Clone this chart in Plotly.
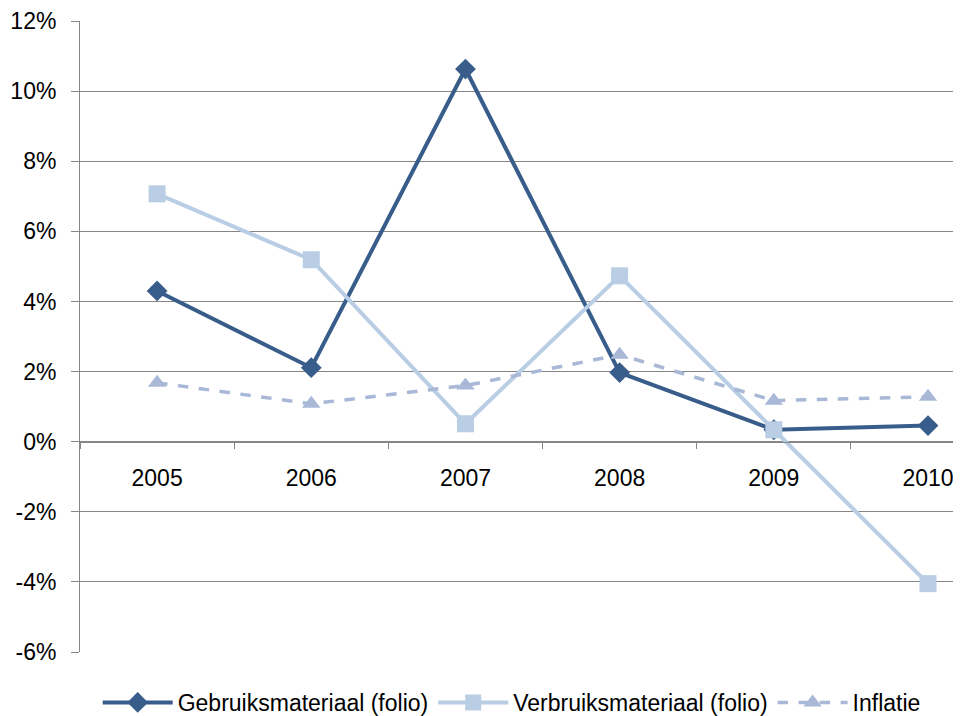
import plotly.graph_objects as go

years = ["2005", "2006", "2007", "2008", "2009", "2010"]
gebruik = [4.30, 2.11, 10.63, 1.97, 0.34, 0.46]
verbruik = [7.07, 5.19, 0.51, 4.73, 0.34, -4.05]
inflatie = [1.68, 1.08, 1.60, 2.48, 1.17, 1.28]
y_ticks = [-6, -4, -2, 0, 2, 4, 6, 8, 10, 12]
y_labels = ["-6%", "-4%", "-2%", "0%", "2%", "4%", "6%", "8%", "10%", "12%"]

dark = "#385D8A"
light = "#B9CDE5"
infl = "#A9B8D6"

fig = go.Figure()
fig.add_trace(go.Scatter(x=years, y=gebruik, name="Gebruiksmateriaal (folio)", mode="lines+markers",
                         line=dict(color=dark, width=4),
                         marker=dict(symbol="diamond", size=16, color=dark)))
fig.add_trace(go.Scatter(x=years, y=verbruik, name="Verbruiksmateriaal (folio)", mode="lines+markers",
                         line=dict(color=light, width=4),
                         marker=dict(symbol="square", size=17, color=light)))
fig.add_trace(go.Scatter(x=years, y=inflatie, name="Inflatie", mode="lines+markers",
                         line=dict(color=infl, width=3.5, dash="dash"),
                         marker=dict(symbol="triangle-up", size=16, color=infl)))

font = dict(family="Liberation Sans, Arial, sans-serif", size=23, color="#000000")

fig.update_layout(
    width=961, height=716,
    margin=dict(l=72, r=8, t=13, b=72, autoexpand=False),
    paper_bgcolor="white", plot_bgcolor="white",
    font=font,
    showlegend=True,
    legend=dict(orientation="h", x=0.49, xanchor="center", y=-0.08, yanchor="middle",
                font=font, itemwidth=70, traceorder="normal"),
    xaxis=dict(type="category", range=[-0.5, 5.214], anchor="free", position=0.3328,
               showline=True, linecolor="#868686", linewidth=1, automargin=False,
               ticks="outside", ticklen=6, tickcolor="#868686", tickson="boundaries",
               showgrid=False, ticklabelstandoff=15, tickfont=font),
    yaxis=dict(range=[-6, 12], tickvals=y_ticks, ticktext=y_labels, automargin=False,
               showline=True, linecolor="#868686", linewidth=1,
               ticks="outside", ticklen=8, tickcolor="#868686",
               showgrid=True, gridcolor="#868686", gridwidth=1, zeroline=False,
               ticklabelstandoff=10, tickfont=font),
)

fig.write_html("out.html")
